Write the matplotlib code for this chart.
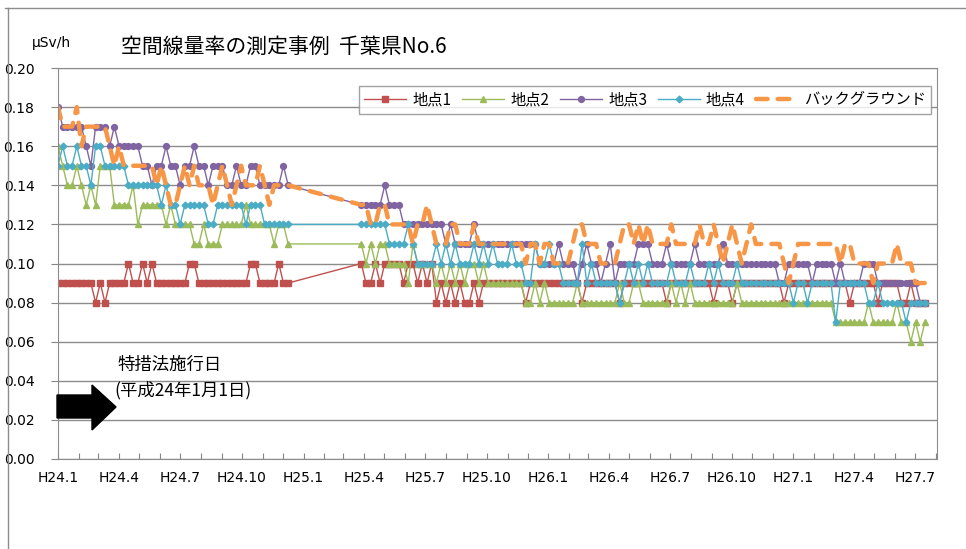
import numpy as np
import pandas as pd
import matplotlib
matplotlib.use('Agg')
import matplotlib.pyplot as plt
import matplotlib.dates as mdates
from matplotlib.lines import Line2D
from matplotlib.patches import Polygon

plt.rcParams['font.family'] = ['Noto Sans CJK JP', 'DejaVu Sans']

# weekly measurements, two periods (gap between Dec H24 and Mar H25)
dates_1 = pd.date_range('2012-01-01', periods=50, freq='7D')
dates_2 = pd.date_range('2013-03-28', periods=121, freq='7D')

# values in 0.01 uSv/h
p1_a = [9,9,9,9,9,9,9,9, 8,9,8, 9,9,9,9, 10, 9,9, 10, 9, 10, 9,9,9,9,9,9,9, 10,10,
        9,9,9,9,9,9,9,9,9,9,9, 10,10, 9,9,9,9, 10, 9,9]
p1_b = [10,9,9,10,9,10,10,10,10,9, 10,10,9,10,9,10,8,9,8,9,
        8,9,8,8,9,8,9,9,9,9, 9,9,9,9,9,8,9,9,9,9,
        9,9,9,9,9,9,9,8,9,9, 9,9,9,9,9,8,9,9,9,9,
        9,9,9,9,9,8,9,9,9,9, 9,9,9,9,9,8,9,9,9,8,
        9,9,9,9,9,9,9,9,9,9, 8,9,9,9,9,9,9,9,9,9,
        9,9,9,9,8,9,9,9,9,9, 8,9,9,9,9,8,8,9,8,8, 8]

p2_a = [16,15,14,14,15,14,13,14,13,15, 15,15,13,13,13,13,14,12,13,13,
        13,13,13,12,13,12,12,12,12,11, 11,12,11,11,11,12,12,12,12,12,
        13,12,12,12,12,12,11,12,12,11]
p2_b = [11,10,11,10,11,11,10,10,10,10, 9,11,10,10,10,10,9,10,9,10,
        9,10,9,10,10,9,10,9,9,9, 9,9,9,9,9,8,8,9,8,9,
        8,8,8,8,8,8,9,8,8,8, 8,8,8,8,8,9,8,8,9,9,
        8,8,8,8,8,8,9,8,9,8, 9,8,8,8,8,8,8,8,8,8,
        9,8,8,8,8,8,8,8,8,8, 8,8,8,8,8,8,8,8,8,8,
        8,7,7,7,7,7,7,7,8,7, 7,7,7,7,8,7,7,6,7,6, 7]

p3_a = [18,17,17,17,17,17,16,15,17,17, 17,16,17,16,16,16,16,16,15,15,
        14,15,15,16,15,15,14,15,15,16, 15,15,14,15,15,15,14,14,15,14,
        14,15,15,14,14,14,14,14,15,14]
p3_b = [13,13,13,13,13,14,13,13,13,12, 12,12,12,12,12,12,12,12,11,12,
        11,11,11,11,12,11,11,11,11,11, 11,11,11,11,11,11,11,11,10,10,
        10,10,11,10,10,10,9,10,11,10, 10,9,10,11,9,10,10,10,10,11,
        11,11,10,10,10,11,10,10,10,10, 10,11,10,10,10,10,10,11,10,10,
        10,10,10,10,10,10,10,10,10,9, 9,10,10,10,10,10,9,10,10,10,
        10,9,10,9,9,9,9,10,10,10, 9,9,9,9,9,9,9,9,9,8, 8]

p4_a = [15,16,15,15,16,15,15,14,16,16, 15,15,15,15,15,14,14,14,14,14,
        14,14,13,14,13,13,12,13,13,13, 13,13,12,12,13,13,13,13,13,13,
        12,13,13,13,12,12,12,12,12,12]
p4_b = [12,12,12,12,12,12,11,11,11,11, 12,11,10,10,10,10,11,10,11,10,
        11,10,10,10,11,10,11,10,11,10, 10,10,11,10,10,9,9,11,10,10,
        11,10,10,9,9,9,9,11,9,10, 9,9,9,9,9,8,9,10,9,10,
        9,10,9,9,9,9,10,9,9,9, 10,9,9,9,10,9,10,9,9,9,
        10,9,9,9,9,9,9,9,9,9, 9,9,8,9,9,8,9,9,9,9,
        9,7,9,9,9,9,9,9,8,8, 9,8,8,8,8,8,7,8,8,8, 8]

bg_a = [18,17,17,17,18,16,17,17,17,17, 17,16,15,16,15,15,15,15,15,15,
        15,14,15,14,13,13,14,15,14,15, 14,14,14,13,14,15,14,13,14,15,
        14,14,14,15,14,13,14,14,14,14]
bg_b = [13,13,12,12,13,13,12,12,12,12, 12,11,12,12,13,12,11,11,11,12,
        12,11,11,11,12,11,11,11,11,11, 11,11,11,11,11,10,11,11,10,11,
        11,10,10,10,10,11,12,12,11,11, 11,10,10,10,10,11,12,12,11,12,
        11,12,11,11,11,11,12,11,11,11, 11,11,12,11,11,12,11,10,11,12,
        11,10,11,12,11,11,11,11,11,11, 10,9,10,11,11,11,11,11,11,11,
        11,11,10,11,11,10,10,10,10,9, 10,10,10,10,11,10,10,10,9,9, 9]

labels = ['地点1', '地点2', '地点3', '地点4', 'バックグラウンド']
colors = ['#C0504D', '#9BBB59', '#8064A2', '#4BACC6', '#F79646']
markers = ['s', '^', 'o', 'D']
msizes = [4.2, 4.6, 4.2, 3.4]

dates = dates_1.append(dates_2)
series = [np.array(a + b) / 100 for a, b in
          [(p1_a, p1_b), (p2_a, p2_b), (p3_a, p3_b), (p4_a, p4_b), (bg_a, bg_b)]]

fig = plt.figure(figsize=(9.66, 5.49), dpi=100)
ax = fig.add_axes([58/966, 1-459/549, 879/966, 391/549])

for k in range(4):
    ax.plot(dates, series[k], color=colors[k], lw=1.0, marker=markers[k],
            ms=msizes[k], mec=colors[k], mfc=colors[k], label=labels[k])
ax.plot(dates, series[4], color=colors[4], lw=3.2, dashes=(2.6, 2.3),
        dash_capstyle='round', label=labels[4])

ax.set_xlim(pd.Timestamp('2012-01-01'), pd.Timestamp('2015-08-03'))
ax.set_ylim(0, 0.20)

# y axis
ax.set_yticks(np.arange(0, 0.201, 0.02))
ax.set_yticklabels([f'{v:.2f}' for v in np.arange(0, 0.201, 0.02)], family='DejaVu Sans')
ax.tick_params(axis='y', length=5, color='#868686', pad=12, labelsize=10)
ax.grid(axis='y', color='#8c8c8c', lw=1.0)

# x axis, one tick per month, label every 3 months
months = pd.date_range('2012-01-01', '2015-08-01', freq='MS')
ax.set_xticks(months)
xl = []
for m in months:
    if (m.month - 1) % 3 == 0:
        xl.append(f'H{m.year - 1988}.{m.month}')
    else:
        xl.append('')
ax.set_xticklabels(xl, family='DejaVu Sans')
ax.tick_params(axis='x', direction='in', length=4, color='#868686', pad=9, labelsize=10)

for s in ['left', 'bottom', 'right', 'top']:
    ax.spines[s].set_color('#8c8c8c')
ax.set_axisbelow(True)

leg = ax.legend(loc='upper right', bbox_to_anchor=(931/966, 1-86/549),
                bbox_transform=fig.transFigure, ncol=5, fontsize=11,
                frameon=True, fancybox=False, edgecolor='#8c8c8c',
                handlelength=2.75, handletextpad=0.4, columnspacing=0.7,
                borderpad=0.35, borderaxespad=0)
leg.get_frame().set_linewidth(1.0)

# title and unit
fig.text(284/966, 1-47/549, '空間線量率の測定事例  千葉県No.6', ha='center', va='center', fontsize=15)
fig.text(32/966, 1-43/549, 'µSv/h', ha='left', va='center', fontsize=10, family='DejaVu Sans')

# arrow marking the law enforcement date
arrow_px = [(57, 395), (92, 395), (92, 385), (116, 407), (92, 430), (92, 418), (57, 418)]
arrow_xy = [((x - 58) / 879, (459 - y) / 391) for x, y in arrow_px]
ax.add_patch(Polygon(arrow_xy, closed=True, color='black', transform=ax.transAxes,
                     clip_on=False, zorder=5))
fig.text(117/966, 1-365/549, '特措法施行日', ha='left', va='center', fontsize=12.5)
fig.text(114/966, 1-390/549, '(平成24年1月1日)', ha='left', va='center', fontsize=12.5)

# outer frame of the chart
fig.add_artist(Line2D([5/966, 1], [1-8/549, 1-8/549], color='#8c8c8c', lw=1.0))
fig.add_artist(Line2D([8/966, 8/966], [0, 1-8/549], color='#8c8c8c', lw=1.0))

fig.savefig('out.png', dpi=100)
